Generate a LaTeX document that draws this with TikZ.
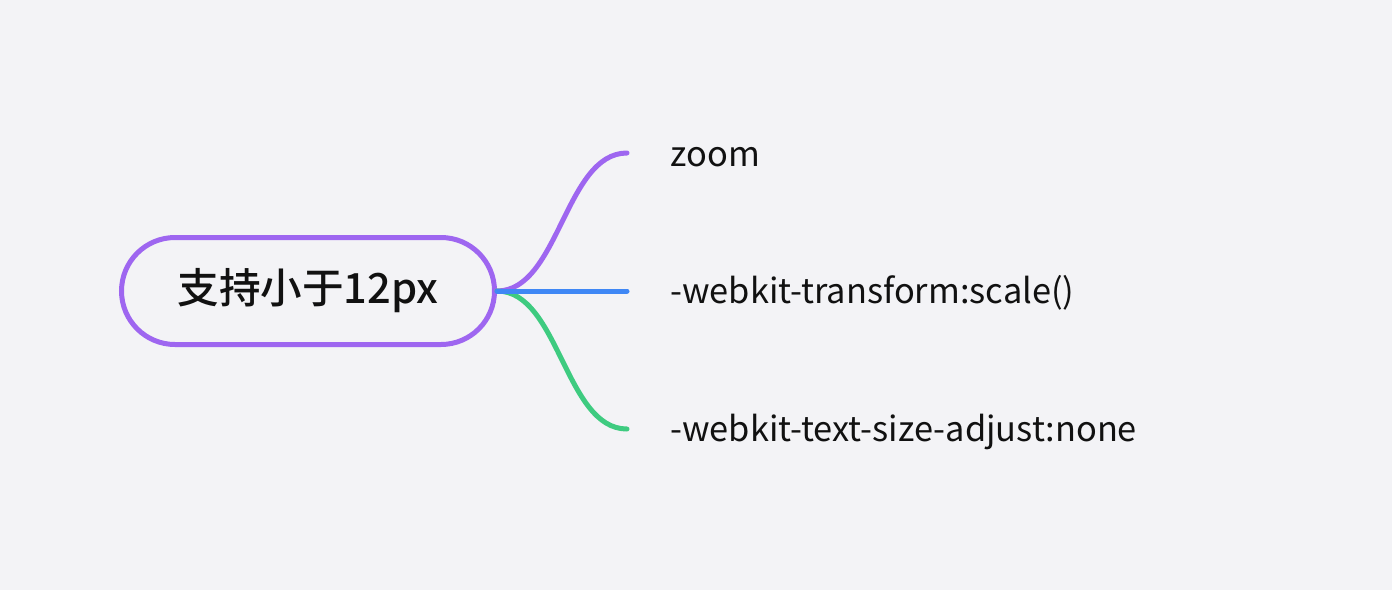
\documentclass[tikz,border=0pt]{standalone}
\usepackage{fontspec}
\setmainfont{Noto Sans CJK SC}[BoldFont={Noto Sans CJK SC Medium}]
\definecolor{bgc}{HTML}{F3F3F6}
\definecolor{purp}{HTML}{9E66F0}
\definecolor{blu}{HTML}{3F87F5}
\definecolor{grn}{HTML}{3ECB80}
\definecolor{txt}{HTML}{111111}
\begin{document}
\begin{tikzpicture}[x=0.5pt,y=-0.5pt,
  rootbox/.style={draw=purp, line width=2.5pt, rounded corners=26.75pt, minimum width=186.5pt, minimum height=53.5pt, inner sep=0pt, text=txt, font=\fontsize{20.8}{24}\selectfont\bfseries},
  leaf/.style={anchor=base west, inner xsep=21.5pt, inner ysep=0pt, text=txt, font=\fontsize{17.2}{20}\selectfont},
  branch/.style={line width=2.5pt, line cap=round}]
\fill[bgc] (0,0) rectangle (1392,590);
\useasboundingbox (0,0) rectangle (1392,590);
\node[rootbox] (root) at (308,291) {支持小于12px};
\coordinate (e1) at (627,153);
\coordinate (e2) at (627,291);
\coordinate (e3) at (627,429);
\node[leaf] (c1) at (627,166) {zoom};
\node[leaf] (c2) at (627,303) {-webkit-transform:scale()};
\node[leaf] (c3) at (627,441) {-webkit-text-size-adjust:none};
\draw[branch, purp] (root.east) .. controls +(62,0) and +(-62,0) .. (e1);
\draw[branch, grn] (root.east) .. controls +(62,0) and +(-62,0) .. (e3);
\draw[branch, blu] (root.east) -- (e2);
\end{tikzpicture}
\end{document}
